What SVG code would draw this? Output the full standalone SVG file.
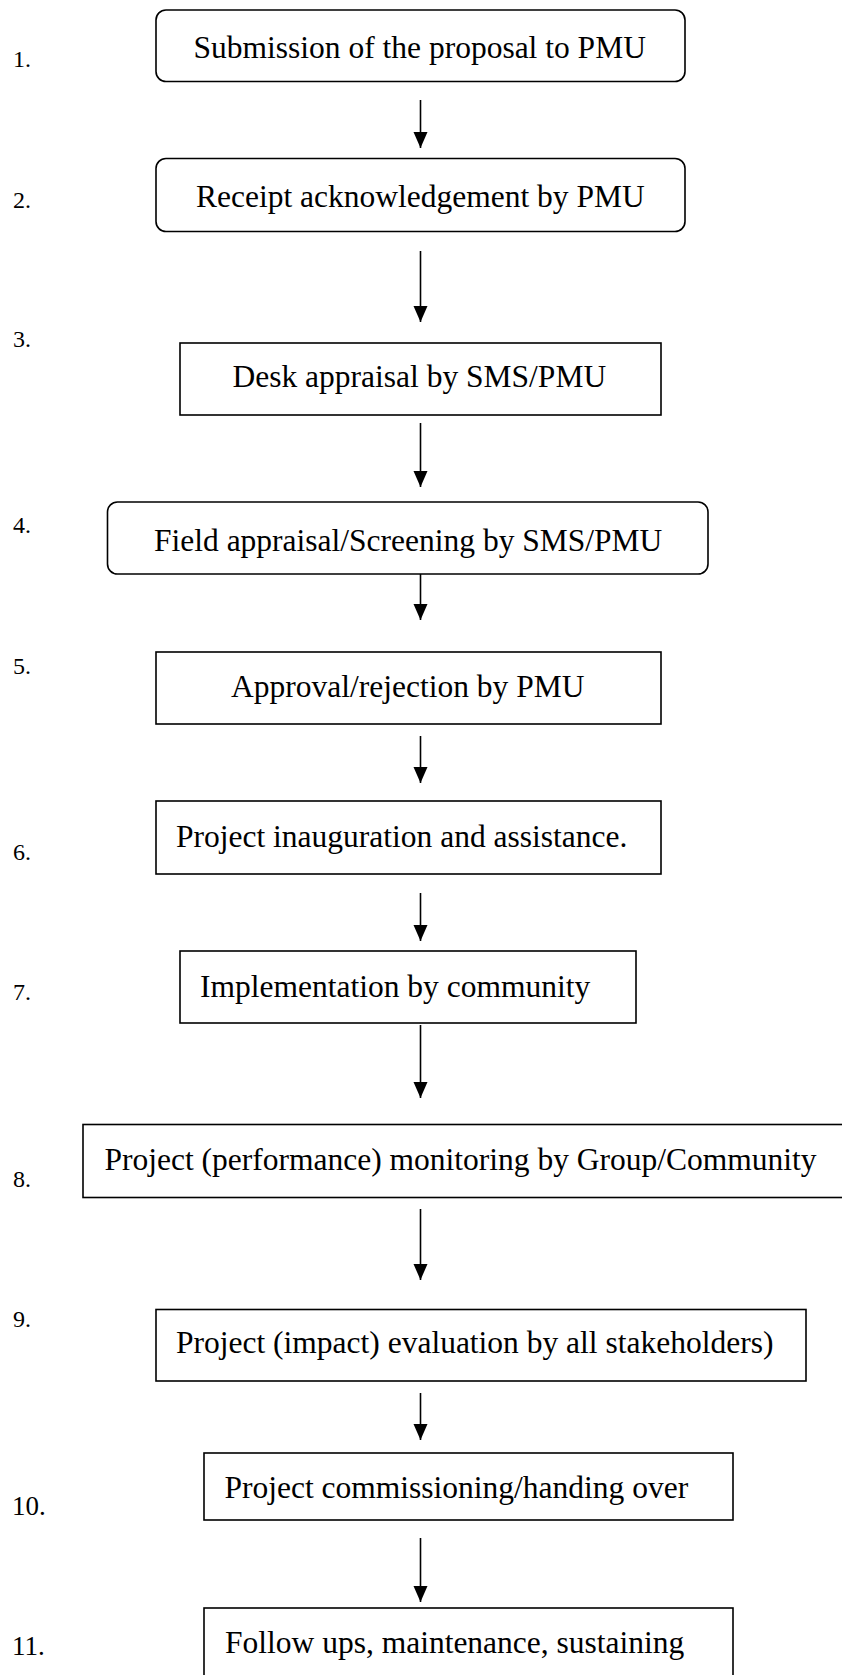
<svg xmlns="http://www.w3.org/2000/svg" width="842" height="1675" viewBox="0 0 842 1675">
<style>
.box{fill:#fff;stroke:#000;stroke-width:1.6}
.t{font-family:"Liberation Serif","Times New Roman",serif;font-size:31.5px;fill:#000}
.n{font-family:"Liberation Serif","Times New Roman",serif;font-size:24px;fill:#000}
.n2{font-family:"Liberation Serif","Times New Roman",serif;font-size:27px;fill:#000}
.c{stroke:#000;stroke-width:1.6;fill:none}
</style>
<defs>
<marker id="ah" markerUnits="userSpaceOnUse" markerWidth="16" markerHeight="18" refX="16" refY="7" orient="auto" viewBox="0 0 16 14">
<path d="M0,0 L16,7 L0,14 Z" fill="#000"/>
</marker>
</defs>
<rect width="842" height="1675" fill="#fff"/>
<g id="numbers">
<text class="n" x="13" y="67">1.</text>
<text class="n" x="13" y="208">2.</text>
<text class="n" x="13" y="347">3.</text>
<text class="n" x="13" y="533">4.</text>
<text class="n" x="13" y="674">5.</text>
<text class="n" x="13" y="860">6.</text>
<text class="n" x="13" y="1000">7.</text>
<text class="n" x="13" y="1187">8.</text>
<text class="n" x="13" y="1327">9.</text>
<text class="n2" x="12" y="1515">10.</text>
<text class="n2" x="12" y="1655">11.</text>
</g>
<g id="connectors">
<line class="c" x1="420.5" y1="100" x2="420.5" y2="148" marker-end="url(#ah)"/>
<line class="c" x1="420.5" y1="251" x2="420.5" y2="322" marker-end="url(#ah)"/>
<line class="c" x1="420.5" y1="423" x2="420.5" y2="487" marker-end="url(#ah)"/>
<line class="c" x1="420.5" y1="574" x2="420.5" y2="620" marker-end="url(#ah)"/>
<line class="c" x1="420.5" y1="736" x2="420.5" y2="783" marker-end="url(#ah)"/>
<line class="c" x1="420.5" y1="893" x2="420.5" y2="941" marker-end="url(#ah)"/>
<line class="c" x1="420.5" y1="1025" x2="420.5" y2="1098" marker-end="url(#ah)"/>
<line class="c" x1="420.5" y1="1209" x2="420.5" y2="1280" marker-end="url(#ah)"/>
<line class="c" x1="420.5" y1="1393" x2="420.5" y2="1440" marker-end="url(#ah)"/>
<line class="c" x1="420.5" y1="1538" x2="420.5" y2="1602" marker-end="url(#ah)"/>
</g>
<g id="node1">
<rect class="box" x="156" y="10" width="529" height="71.5" rx="10" ry="10"/>
<text class="t" x="193.5" y="57.5">Submission of the proposal to PMU</text>
</g>
<g id="node2">
<rect class="box" x="156" y="158.5" width="529" height="73" rx="10" ry="10"/>
<text class="t" x="196" y="207">Receipt acknowledgement by PMU</text>
</g>
<g id="node3">
<rect class="box" x="180" y="343" width="481" height="72"/>
<text class="t" x="232.5" y="387">Desk appraisal by SMS/PMU</text>
</g>
<g id="node4">
<rect class="box" x="107.5" y="502" width="600.5" height="72" rx="10" ry="10"/>
<text class="t" x="154" y="551">Field appraisal/Screening by SMS/PMU</text>
</g>
<g id="node5">
<rect class="box" x="156" y="652" width="505" height="72"/>
<text class="t" x="231" y="697">Approval/rejection by PMU</text>
</g>
<g id="node6">
<rect class="box" x="156" y="801" width="505" height="73"/>
<text class="t" x="176" y="847">Project inauguration and assistance.</text>
</g>
<g id="node7">
<rect class="box" x="180" y="951" width="456" height="72"/>
<text class="t" x="200" y="997">Implementation by community</text>
</g>
<g id="node8">
<rect class="box" x="83" y="1124.5" width="770" height="73"/>
<text class="t" x="104.5" y="1170">Project (performance) monitoring by Group/Community</text>
</g>
<g id="node9">
<rect class="box" x="156" y="1309.5" width="650" height="71.5"/>
<text class="t" x="176" y="1353">Project (impact) evaluation by all stakeholders)</text>
</g>
<g id="node10">
<rect class="box" x="204" y="1453" width="529" height="67"/>
<text class="t" x="224.5" y="1498">Project commissioning/handing over</text>
</g>
<g id="node11">
<rect class="box" x="204" y="1608" width="529" height="80"/>
<text class="t" x="225" y="1653">Follow ups, maintenance, sustaining</text>
</g>
</svg>
